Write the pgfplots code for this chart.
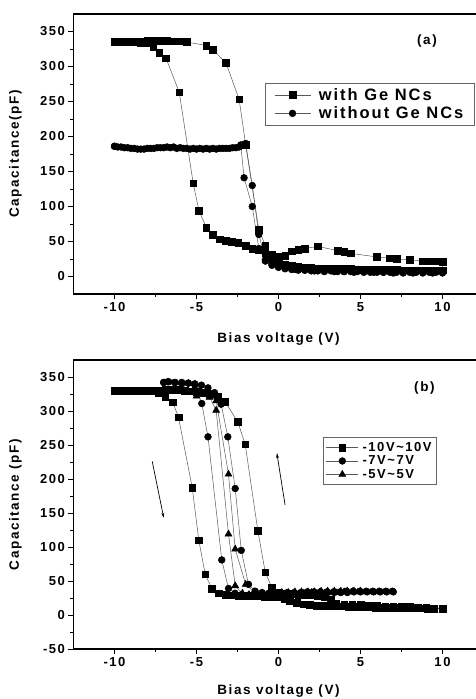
\documentclass[border=0pt]{standalone}
\usepackage{pgfplots}
\pgfplotsset{compat=1.18}
\usepackage{fontspec}
\setmainfont[LetterSpace=12]{Liberation Sans}
\usetikzlibrary{arrows.meta}
\pgfplotsset{
  myax/.style={
    scale only axis, width=410pt,
    xmin=-12.5, xmax=12.5,
    xtick={-10,-5,0,5,10},
    minor x tick num=1, minor y tick num=1,
    tick align=outside, tick pos=left,
    major tick length=5pt, minor tick length=3pt,
    axis line style={line width=1.2pt},
    every tick/.style={line width=0.9pt, black},
    /pgf/number format/assume math mode=true,
    tick label style={font=\fontsize{13}{15}\selectfont\bfseries},
    label style={font=\fontsize{13.5}{15}\selectfont\bfseries},
    every axis plot/.append style={draw=black!65, line width=0.5pt},
    legend cell align=left,
    legend image code/.code={\draw[mark repeat=2,mark phase=2] plot coordinates {(0pt,0pt) (18pt,0pt) (36pt,0pt)};},
  }
}
\begin{document}
\begin{tikzpicture}
\useasboundingbox (0,0) rectangle (476pt,699pt);
% ---------------- (a) ----------------
\begin{axis}[myax, at={(73.5pt,405pt)}, anchor=south west,
  height=280pt, ymin=-25, ymax=375,
  ytick={0,50,...,350},
  xlabel={Bias voltage (V)}, ylabel={Capacitance(pF)},
  xlabel style={at={(axis description cs:0.5,-0.16)}, anchor=center},
  ylabel style={at={(axis description cs:-0.142,0.5)}, anchor=center},
  legend style={at={(0.467,0.754)}, anchor=north west, draw=black!60, line width=0.6pt,
    font=\fontsize{16.5}{18}\selectfont\bfseries, row sep=1pt, inner xsep=9pt, inner ysep=3pt,
    column sep=6pt},
]
\addplot[mark=square*, mark size=3.3pt, mark options={fill=black, draw=black}] coordinates {
(-10,335) (-9.6,335) (-9.2,336) (-8.8,336) (-8.4,336) (-8.0,337) (-7.6,337) (-7.2,337) (-6.8,337) (-6.4,336) (-6.0,336) (-5.6,335)
(-4.4,330) (-4.0,324) (-3.2,305) (-2.4,253) (-2.0,188) (-1.2,67) (-0.8,44) (-0.4,26) (0,20) (0.4,17) (0.8,15) (1.2,14) (1.6,13) (2.0,13) (2.4,12) (2.8,12) (3.2,12) (3.6,11) (4.0,11) (4.4,11) (4.8,10) (5.2,10) (5.6,10) (6.0,10) (6.4,10) (6.8,10) (7.2,10) (7.6,9) (8.0,9) (8.4,9) (8.8,9) (9.2,9) (9.6,9) (10,9)
(10,21) (9.6,22) (9.2,22) (8.8,22) (8.0,24) (7.2,25) (6.8,26) (6.0,28) (4.4,33) (4.0,35) (3.6,37) (2.4,43) (1.6,40) (1.2,38) (0.8,36) (0.4,30) (0,28) (-0.4,31) (-0.8,33) (-1.2,38) (-1.6,40) (-2.0,44) (-2.45,48) (-2.85,50) (-3.2,51) (-3.6,53) (-4.0,60) (-4.4,70) (-4.85,94) (-5.2,133) (-6.05,263) (-6.86,312) (-7.27,320) (-7.63,328) (-8.0,333) (-8.4,334) (-8.8,335) (-9.2,335) (-9.6,335) (-10,335)
};
\addlegendentry{with Ge NCs}
\addplot[mark=*, mark size=3.4pt, mark options={fill=black, draw=black}] coordinates {
(-10,186) (-9.6,185) (-9.2,184) (-8.8,183) (-8.4,182) (-8.0,183) (-7.6,183) (-7.2,184) (-6.8,185) (-6.4,185) (-6.0,184) (-5.6,183) (-5.2,183) (-4.8,183) (-4.4,183) (-4.0,183) (-3.6,183) (-3.2,183) (-2.8,184) (-2.4,185) (-2.0,190) (-1.6,130) (-1.2,60) (-0.8,24) (-0.4,18) (0,14) (0.4,11) (0.8,10) (1.2,9) (1.6,9) (2.0,8) (2.4,8) (2.8,8) (3.2,8) (3.6,7) (4.0,7) (4.4,7) (4.8,7) (5.2,7) (5.6,6) (6.0,6) (6.4,6) (6.8,6) (7.2,6) (7.6,6) (8.0,6) (8.4,6) (8.8,6) (9.2,6) (9.6,6) (10,6)
(10,5) (9.4,5) (8.8,5) (8.2,5) (7.6,5) (7.0,5) (6.4,6) (5.8,6) (5.2,6) (4.6,6) (4.0,7) (3.4,7) (2.8,7) (2.2,8) (1.6,9) (1.0,10) (0.4,12) (0,13) (-0.4,16) (-0.8,22) (-1.2,40) (-1.6,100) (-2.1,141) (-2.3,188) (-2.6,184) (-3.0,183) (-3.4,183) (-3.8,182) (-4.2,182) (-4.6,182) (-5.0,182) (-5.4,182) (-5.8,183) (-6.2,183) (-6.6,184) (-7.0,184) (-7.4,184) (-7.8,183) (-8.2,182) (-8.6,182) (-9.0,183) (-9.4,184) (-9.8,185) (-10,186)
};
\addlegendentry{without Ge NCs}
\node[font=\fontsize{13.5}{15}\selectfont\bfseries] at (axis cs:9.05,337) {(a)};
\end{axis}
% ---------------- (b) ----------------
\begin{axis}[myax, at={(73.5pt,50pt)}, anchor=south west,
  height=289pt, ymin=-50, ymax=375,
  ytick={-50,0,...,350},
  xlabel={Bias voltage (V)}, ylabel={Capacitance (pF)},
  xlabel style={at={(axis description cs:0.5,-0.145)}, anchor=center},
  ylabel style={at={(axis description cs:-0.142,0.5)}, anchor=center},
  legend style={at={(0.608,0.734)}, anchor=north west, draw=black!60, line width=0.6pt,
    font=\fontsize{13}{15}\selectfont\bfseries, row sep=-1pt, inner xsep=3pt, inner ysep=3pt,
    column sep=2pt},
  legend image code/.code={\draw[mark repeat=2,mark phase=2] plot coordinates {(0pt,0pt) (16pt,0pt) (32pt,0pt)};},
]
\addplot[mark=square*, mark size=3.3pt, mark options={fill=black, draw=black}] coordinates {
(-10,330) (-9.6,330) (-9.3,330) (-8.9,330) (-8.6,330) (-8.2,330) (-7.9,330) (-7.5,329) (-7.3,326) (-6.9,321) (-6.45,313) (-6.1,291) (-5.26,187) (-4.86,110) (-4.47,60) (-4.07,39) (-3.66,32) (-3.25,30) (-2.85,29) (-2.45,28) (-2.05,28) (-1.65,28) (-1.25,28) (-0.85,27) (-0.45,27) (-0.05,26) (0.35,24) (0.7,20) (1.1,18) (1.5,16) (1.9,15) (2.3,14) (2.7,14) (3.1,13) (3.5,13) (3.9,13) (4.3,12) (4.7,12) (5.1,12) (5.5,12) (5.9,11) (6.3,11) (6.7,11) (7.1,11) (7.5,10) (7.9,10) (8.3,10) (8.7,10) (9.1,9) (9.5,9) (10,9)
(10,10) (9.5,10) (9,11) (8.5,11) (8,12) (7.5,12) (7,13) (6.5,13) (6,14) (5.5,14) (5,15) (4.5,15) (4,16) (3.5,17) (3.2,23) (2.8,27) (2.4,28) (2,29) (1.6,30) (1.2,30) (0.8,31) (0.4,31) (0,33) (-0.4,40) (-0.81,63) (-1.26,124) (-2.03,251) (-2.48,284) (-3.27,314) (-3.7,321) (-4.1,325) (-4.5,327) (-4.9,328) (-5.3,329) (-5.7,330) (-6.1,331) (-6.5,331) (-6.9,331) (-7.3,330) (-7.7,330) (-8.1,330) (-8.5,330) (-8.9,330) (-9.3,330) (-9.7,330) (-10,330)
};
\addlegendentry{-10V\textasciitilde10V}
\addplot[mark=*, mark size=3.4pt, mark options={fill=black, draw=black}] coordinates {
(-7.0,342) (-6.75,343) (-6.34,342) (-5.9,340) (-5.5,341) (-5.1,338) (-4.68,311) (-4.3,262) (-3.46,81) (-3.05,39) (-2.65,32) (-2.25,30) (-1.85,29) (-1.45,29) (-1.05,30) (-0.65,30) (-0.25,31) (0.15,32) (0.55,33) (0.95,33) (1.35,33) (1.75,34) (2.15,34) (2.55,34) (2.95,34) (3.35,34) (3.75,34) (4.15,35) (4.55,35) (4.95,35) (5.35,35) (5.75,35) (6.15,35) (6.55,35) (6.95,35)
(7.0,34) (6.6,34) (6.2,34) (5.8,34) (5.4,34) (5.0,34) (4.6,34) (4.2,33) (3.8,33) (3.4,33) (3.0,33) (2.6,33) (2.2,33) (1.8,32) (1.4,32) (1.0,32) (0.6,32) (0.2,32) (-0.2,31) (-0.6,32) (-1.0,33) (-1.42,35) (-1.83,45) (-2.27,95) (-2.64,186) (-3.09,262) (-3.5,310) (-3.9,327) (-4.3,334) (-4.7,338) (-5.1,340) (-5.5,341) (-5.9,342) (-6.3,342) (-6.7,343) (-7.0,342)
};
\addlegendentry{-7V\textasciitilde7V}
\addplot[mark=triangle*, mark size=4pt, mark options={fill=black, draw=black}] coordinates {
(-5.0,322) (-4.6,324) (-4.2,320) (-3.8,301) (-3.05,119) (-2.64,43) (-2.2,32) (-1.8,30) (-1.4,30) (-1.0,30) (-0.6,31) (-0.2,32) (0.2,33) (0.6,33) (1.0,34) (1.4,34) (1.8,34) (2.2,34) (2.6,35) (3.0,35) (3.4,35) (3.8,35) (4.2,35) (4.6,35) (5.0,35)
(5.0,34) (4.5,34) (4.0,34) (3.5,33) (3.0,33) (2.5,33) (2.0,33) (1.5,32) (1.0,32) (0.5,32) (0,31) (-0.5,31) (-1.0,32) (-1.5,34) (-2.0,45) (-2.64,97) (-3.05,207) (-3.8,315) (-4.2,322) (-4.6,326) (-5.0,325)
};
\addlegendentry{-5V\textasciitilde5V}
\draw[-{Stealth[length=5pt,width=3pt]}, line width=0.7pt] (axis cs:-7.7,226) -- (axis cs:-7.0,143);
\draw[-{Stealth[length=5pt,width=3pt]}, line width=0.7pt] (axis cs:0.4,162) -- (axis cs:-0.1,238);
\node[font=\fontsize{13.5}{15}\selectfont\bfseries] at (axis cs:8.9,334) {(b)};
\end{axis}
\end{tikzpicture}
\end{document}
